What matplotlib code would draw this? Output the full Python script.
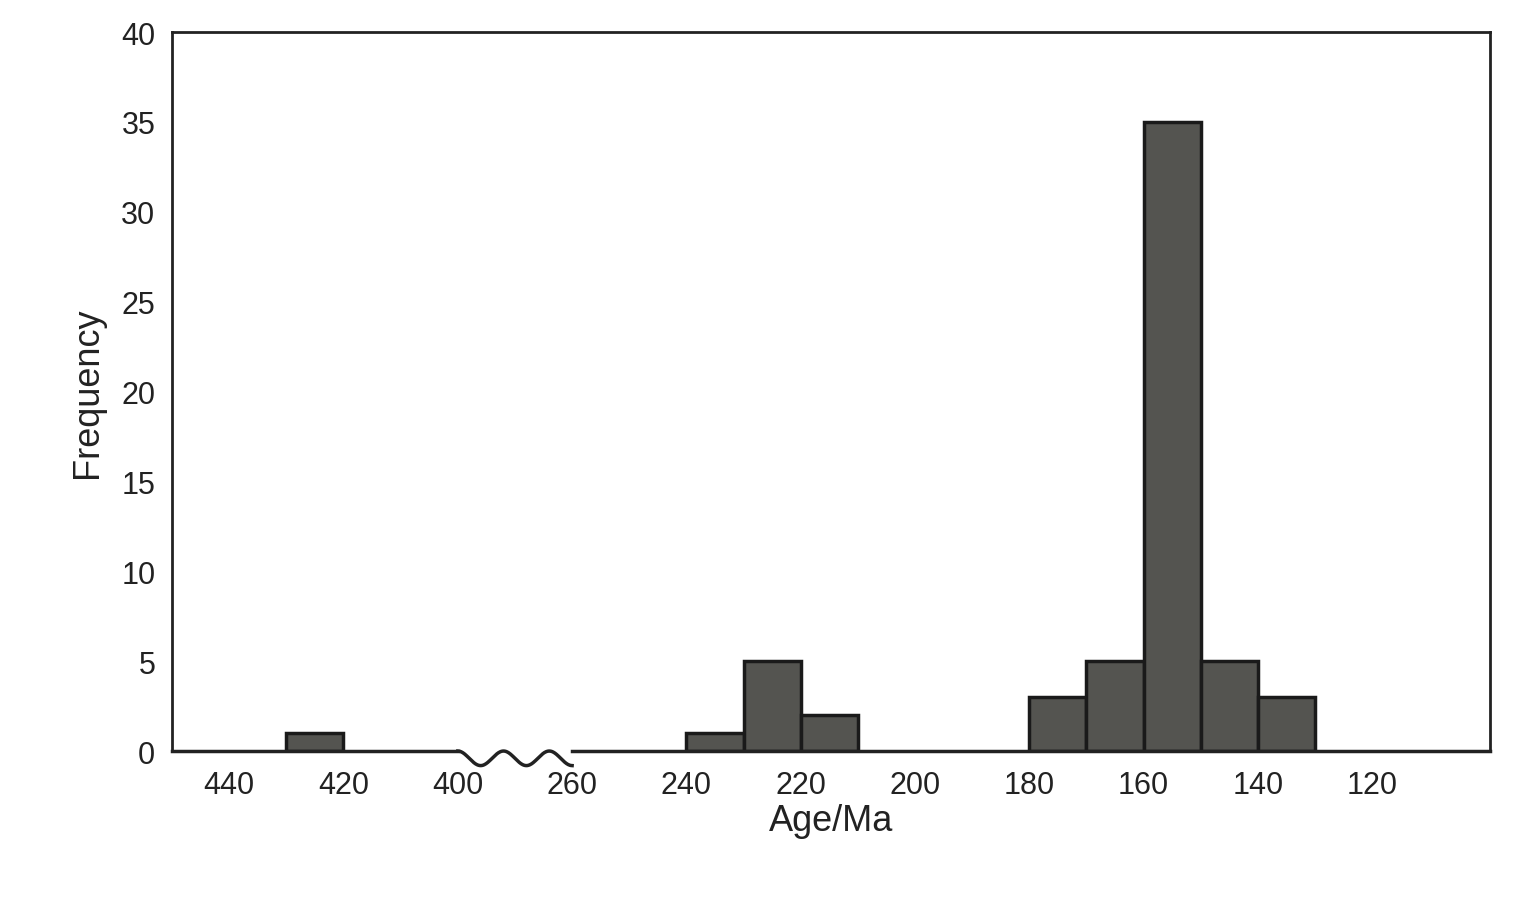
import matplotlib
matplotlib.use("Agg")
import matplotlib.pyplot as plt
import numpy as np

plt.rcParams['font.family'] = ['Liberation Sans', 'DejaVu Sans']

bin_left = [430, 240, 230, 220, 180, 170, 160, 150, 140]   # Ma (older edge)
counts   = [1, 1, 5, 2, 3, 5, 35, 5, 3]
tick_ages = [440, 420, 400, 260, 240, 220, 200, 180, 160, 140, 120]

def pos(age):
    age = np.asarray(age, dtype=float)
    return np.where(age >= 400, (440 - age) / 20.0, 3 + (260 - age) / 20.0)

fig = plt.figure(figsize=(15.13, 9.12), dpi=100)
ax = fig.add_axes([0.1137, 0.1754, 0.9848 - 0.1137, 0.9638 - 0.1754])
lefts = pos(bin_left)
ax.bar(lefts, counts, width=0.5, align='edge', color='#545450',
       edgecolor='#1a1a1a', linewidth=2.5, zorder=3)
ax.set_xlim(-0.5, 11.03)
ax.set_ylim(0, 40)
ax.spines['bottom'].set_visible(False)
for s in ['left', 'top', 'right']:
    ax.spines[s].set_linewidth(2)
    ax.spines[s].set_color('#222222')
# baseline with break
ax.plot([-0.5, 2.0], [0, 0], color='#222222', lw=2.5, clip_on=False, zorder=4)
ax.plot([3.0, 11.03], [0, 0], color='#222222', lw=2.5, clip_on=False, zorder=4)
zx = np.linspace(2.0, 3.0, 200)
zy = -0.9 * np.abs(np.sin(zx * np.pi * 3)) * 0 + (-0.45 + 0.45 * np.cos((zx - 2.0) * 2 * np.pi * 2.5)) * 0.9
ax.plot(zx, zy, color='#222222', lw=2.5, clip_on=False, zorder=4)

ax.set_xticks(pos(tick_ages))
ax.set_xticklabels([str(t) for t in tick_ages])
ax.set_yticks(range(0, 41, 5))
ax.tick_params(axis='x', length=0, labelsize=22, pad=14, colors='#222222')
ax.tick_params(axis='y', length=0, labelsize=22, pad=12, colors='#222222')
ax.set_xlabel('Age/Ma', fontsize=26, color='#222222', labelpad=2)
ax.set_ylabel('Frequency', fontsize=26, color='#222222', labelpad=12)
fig.savefig('out.png', dpi=100)
